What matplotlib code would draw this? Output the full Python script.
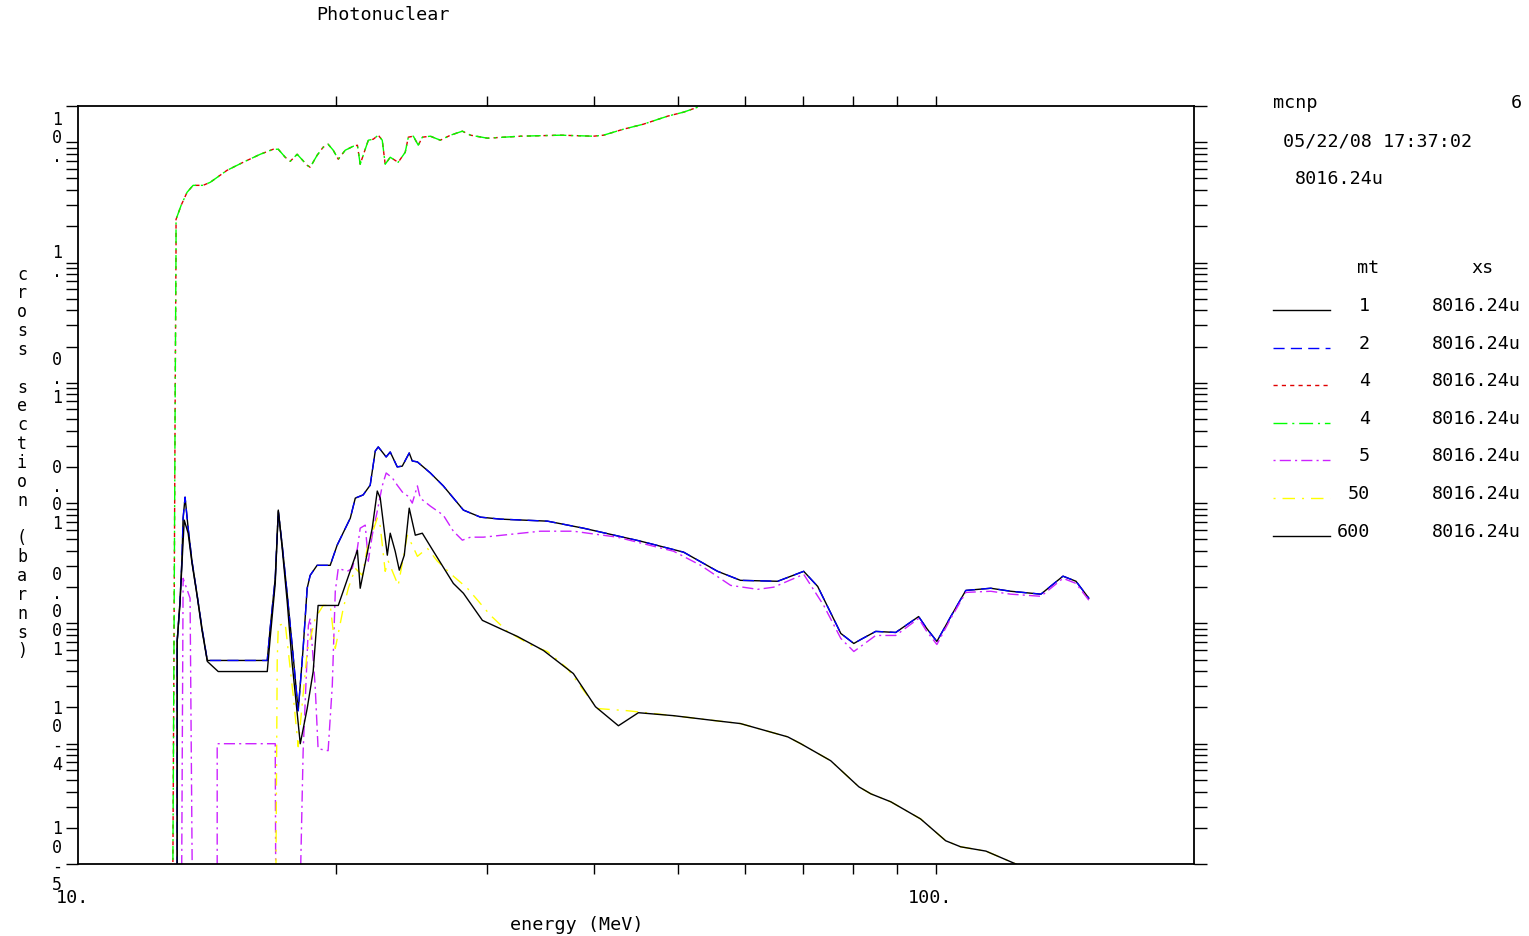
import matplotlib
matplotlib.use('Agg')
import matplotlib.pyplot as plt
from matplotlib.lines import Line2D
from matplotlib.ticker import LogLocator, FixedLocator, NullFormatter

plt.rcParams['font.family'] = ['DejaVu Sans Mono', 'DejaVu Sans']
plt.rcParams['lines.scale_dashes'] = False

# ---- data (energy in MeV, xs in barns) ----
# values below the plot floor (1e-6) mean the curve drops off the axis
e_mt1 = [13.05, 13.05, 13.15, 13.22, 13.26, 13.33, 13.44, 13.58, 13.77, 13.95, 14.15,
         16.62, 16.75, 16.98, 17.12, 17.30, 17.54, 17.77, 18.06, 18.30, 18.50, 18.65,
         19.00, 19.68, 20.05, 20.77, 21.05, 21.50, 21.91, 22.21, 22.39, 22.87, 23.12,
         23.56, 23.88, 24.33, 24.53, 24.87, 25.75, 26.66, 28.14, 29.46, 31.08, 35.26,
         38.83, 45.26, 50.82, 55.67, 59.2, 65.42, 70.15, 72.83, 77.5, 80.25, 81.8,
         85.11, 89.81, 95.5, 97.6, 100.3, 104.1, 108.4, 115.9, 122.3, 132.6, 140.7,
         145.7, 150.8]
xs_mt1 = [1e-6, 7.08e-4, 1.53e-3, 3.48e-3, 7.50e-3, 1.12e-2, 6.19e-3, 3.29e-3, 1.71e-3,
          9.08e-4, 4.92e-4, 4.92e-4, 9.08e-4, 2.37e-3, 8.58e-3, 4.47e-3, 1.71e-3,
          6.56e-4, 1.88e-4, 6.19e-4, 1.96e-3, 2.51e-3, 3.04e-3, 3.04e-3, 4.47e-3,
          7.50e-3, 1.10e-2, 1.17e-2, 1.41e-2, 2.71e-2, 2.93e-2, 2.42e-2, 2.66e-2,
          2.00e-2, 2.03e-2, 2.61e-2, 2.24e-2, 2.20e-2, 1.78e-2, 1.39e-2, 8.75e-3,
          7.64e-3, 7.36e-3, 7.08e-3, 6.19e-3, 4.83e-3, 3.91e-3, 2.71e-3, 2.28e-3,
          2.24e-3, 2.71e-3, 2.03e-3, 8.25e-4, 6.81e-4, 7.36e-4, 8.58e-4, 8.41e-4,
          1.14e-3, 9.08e-4, 7.08e-4, 1.14e-3, 1.88e-3, 1.96e-3, 1.85e-3, 1.75e-3,
          2.47e-3, 2.24e-3, 1.62e-3]

# mt 2 sits on top of mt 1 everywhere
e_mt2 = list(e_mt1)
xs_mt2 = list(xs_mt1)

e_mt4 = [12.88, 12.94, 12.98, 13.01, 13.01, 13.19, 13.40, 13.62, 13.99, 14.26, 14.92,
         15.58, 16.31, 16.89, 17.12, 17.44, 17.68, 18.01, 18.50, 18.65, 19.00, 19.31,
         19.57, 19.84, 20.11, 20.49, 20.94, 21.17, 21.33, 21.56, 21.80, 22.09, 22.39,
         22.63, 22.81, 23.12, 23.62, 24.07, 24.27, 24.60, 24.93, 25.20, 25.75, 26.45,
         27.18, 28.06, 28.68, 30.01, 32.80, 36.51, 39.89, 40.99, 43.24, 45.63, 48.69,
         50.82, 52.8]
xs_mt4 = [1e-6, 7.5e-4, 0.075, 1.33, 2.28, 2.99, 3.83, 4.38, 4.38, 4.64, 5.84, 6.81,
          7.94, 8.74, 8.74, 7.50, 6.95, 7.94, 6.43, 6.19, 7.79, 9.08, 9.62, 8.58, 7.22,
          8.58, 9.26, 9.44, 6.56, 8.25, 10.39, 10.59, 11.44, 10.39, 6.56, 7.50, 6.81,
          8.25, 11.01, 11.22, 9.44, 11.01, 11.22, 10.39, 11.44, 12.35, 11.44, 10.80,
          11.22, 11.44, 11.22, 11.44, 12.83, 14.13, 16.47, 17.78, 19.57]

e_mt5 = [13.19, 13.26, 13.51, 13.62, 14.53, 14.53, 16.98, 17.02, 18.06, 18.30, 18.56,
         18.65, 18.90, 19.05, 19.57, 19.79, 19.95, 20.11, 20.60, 20.88, 21.17, 21.33,
         21.62, 21.80, 22.03, 22.33, 22.63, 22.87, 23.25, 23.56, 23.94, 24.27, 24.53,
         24.87, 25.06, 25.75, 26.66, 27.39, 28.06, 28.68, 29.69, 34.60, 37.80, 42.54,
         49.47, 53.2, 57.66, 62.0, 64.71, 70.15, 74.02, 77.5, 80.25, 85.11, 89.81,
         95.5, 97.6, 100.3, 104.1, 108.4, 115.9, 122.3, 132.6, 140.7, 145.7, 150.8]
xs_mt5 = [1e-6, 2.37e-3, 1.62e-3, 1e-6, 1e-6, 1.0e-4, 1.0e-4, 1e-6, 1e-6, 8.58e-5,
          9.62e-4, 1.10e-3, 3.04e-4, 9.08e-5, 8.75e-5, 3.04e-4, 1.85e-3, 2.87e-3,
          2.71e-3, 2.87e-3, 4.22e-3, 6.19e-3, 6.56e-3, 3.29e-3, 5.41e-3, 8.58e-3,
          1.39e-2, 1.78e-2, 1.62e-2, 1.41e-2, 1.21e-2, 1.14e-2, 1.00e-2, 1.39e-2,
          1.10e-2, 9.44e-3, 7.94e-3, 5.84e-3, 4.92e-3, 5.21e-3, 5.21e-3, 5.84e-3,
          5.84e-3, 5.21e-3, 3.98e-3, 3.04e-3, 2.07e-3, 1.92e-3, 2.00e-3, 2.56e-3,
          1.41e-3, 7.50e-4, 5.84e-4, 7.94e-4, 7.94e-4, 1.10e-3, 8.58e-4, 6.68e-4,
          1.10e-3, 1.81e-3, 1.85e-3, 1.75e-3, 1.68e-3, 2.37e-3, 2.15e-3, 1.56e-3]

e_mt50 = [16.98, 17.07, 17.12, 17.44, 17.82, 18.06, 18.50, 18.90, 19.31, 19.68, 19.95,
          20.38, 20.66, 21.05, 21.45, 21.74, 22.33, 22.51, 22.81, 23.00, 23.62, 23.94,
          24.20, 24.53, 24.87, 25.54, 26.24, 27.39, 28.44, 30.25, 31.67, 33.96, 35.26,
          37.20, 39.26, 40.32, 43.71, 49.47, 55.08, 59.2, 67.20, 69.6, 75.42, 81.35,
          84.01, 88.62, 96.0, 102.7, 106.9, 114.4, 124.0, 127.4]
xs_mt50 = [1e-6, 4.83e-4, 9.62e-4, 1.00e-3, 2.51e-4, 9.44e-5, 5.84e-4, 1.10e-3,
           1.41e-3, 1.41e-3, 6.19e-4, 1.33e-3, 1.96e-3, 2.87e-3, 2.51e-3, 4.22e-3,
           7.50e-3, 6.43e-3, 2.71e-3, 3.29e-3, 2.07e-3, 3.48e-3, 5.41e-3, 4.47e-3,
           3.61e-3, 4.22e-3, 3.29e-3, 2.47e-3, 1.96e-3, 1.17e-3, 8.58e-4, 6.43e-4,
           5.84e-4, 4.22e-4, 2.51e-4, 1.96e-4, 1.88e-4, 1.71e-4, 1.56e-4, 1.47e-4,
           1.14e-4, 1.00e-4, 7.22e-5, 4.38e-5, 3.83e-5, 3.29e-5, 2.37e-5, 1.56e-5,
           1.39e-5, 1.28e-5, 1.00e-5, 8.2e-6]

e_mt600 = [13.05, 13.05, 13.15, 13.22, 13.30, 13.44, 13.58, 13.77, 13.95, 14.15, 14.57,
           16.62, 16.75, 16.98, 17.12, 17.30, 17.54, 17.77, 18.16, 18.50, 18.80, 19.05,
           20.11, 21.17, 21.33, 22.03, 22.33, 22.51, 22.94, 23.12, 23.43, 23.69, 24.01,
           24.33, 24.73, 25.20, 25.96, 27.39, 28.14, 29.61, 30.67, 32.53, 34.88, 37.80,
           40.11, 42.66, 45.01, 49.47, 55.08, 59.2, 67.20, 69.6, 75.42, 81.35, 84.01,
           88.62, 96.0, 102.7, 106.9, 114.4, 124.0, 127.4]
xs_mt600 = [1e-6, 7.08e-4, 1.47e-3, 3.16e-3, 7.22e-3, 5.62e-3, 3.16e-3, 1.68e-3,
            8.75e-4, 4.83e-4, 3.98e-4, 3.98e-4, 7.50e-4, 2.15e-3, 8.75e-3, 4.22e-3,
            1.47e-3, 4.64e-4, 1.00e-4, 1.96e-4, 3.98e-4, 1.41e-3, 1.41e-3, 4.06e-3,
            1.96e-3, 6.19e-3, 1.26e-2, 1.10e-2, 3.69e-3, 5.62e-3, 3.98e-3, 2.77e-3,
            3.69e-3, 9.08e-3, 5.41e-3, 5.62e-3, 3.98e-3, 2.15e-3, 1.78e-3, 1.06e-3,
            9.44e-4, 7.79e-4, 5.96e-4, 3.83e-4, 2.03e-4, 1.41e-4, 1.81e-4, 1.71e-4,
            1.56e-4, 1.47e-4, 1.14e-4, 1.00e-4, 7.22e-5, 4.38e-5, 3.83e-5, 3.29e-5,
            2.37e-5, 1.56e-5, 1.39e-5, 1.28e-5, 1.00e-5, 8.2e-6]

mt_labels = ['1', '2', '4', '4', '5', '50', '600']
xs_name = '8016.24u'
ytick_vals = [10, 1, 0.1, 0.01, 0.001, 1e-4, 1e-5]
ytick_text = ['10.', '1.', '0.1', '0.01', '0.001', '10-4', '10-5']
ytick_shift = [5, 1, 5, 8, 12, 8, 8]   # pixels the stacked label sits above its tick

W, H = 1529, 937
FS = 13.2
def fx(px):
    return px / W
def fy(py):
    return 1 - py / H

fig = plt.figure(figsize=(W / 100, H / 100), dpi=100)
ax = fig.add_axes([fx(78), fy(865), (1194 - 78) / W, (865 - 107) / H])
ax.set_xscale('log')
ax.set_yscale('log')
ax.set_xlim(10, 200)
ax.set_ylim(1e-5, 20)

# curve styles in MCNP draw order
curves = [
    (e_mt1, xs_mt1, 'black', '-'),
    (e_mt2, xs_mt2, '#0000ff', (0, (8, 4.5))),
    (e_mt4, xs_mt4, '#e00000', (0, (3, 3))),
    (e_mt4, xs_mt4, '#00ff00', (0, (10, 3.5, 1.5, 3.5))),
    (e_mt5, xs_mt5, '#cc22ff', (0, (1.5, 3, 8, 3))),
    (e_mt50, xs_mt50, '#ffff00', (0, (1.5, 5, 9, 5))),
    (e_mt600, xs_mt600, 'black', '-'),
]
for e, xs, col, ls in curves:
    ax.plot(e, xs, color=col, linestyle=ls, lw=1.0)

# ticks
ax.xaxis.set_major_locator(FixedLocator([20, 30, 40, 50, 60, 70, 80, 90, 100]))
ax.xaxis.set_minor_locator(FixedLocator([]))
ax.xaxis.set_major_formatter(NullFormatter())
ax.xaxis.set_minor_formatter(NullFormatter())
ax.yaxis.set_major_locator(LogLocator(base=10, numticks=20))
ax.yaxis.set_minor_locator(LogLocator(base=10, subs=range(2, 10), numticks=20))
ax.yaxis.set_major_formatter(NullFormatter())
ax.yaxis.set_minor_formatter(NullFormatter())
ax.tick_params(axis='y', which='both', direction='out', length=9, width=1.0,
               color='black', left=True, right=True)
ax.tick_params(axis='x', which='both', direction='out', length=7.5, width=1.0,
               color='black', top=True, bottom=True)
for s in ax.spines.values():
    s.set_linewidth(1.3)

# stacked y tick labels, one character per row
for v, t, sh in zip(ytick_vals, ytick_text, ytick_shift):
    ax.annotate('\n'.join(t), xy=(0, v), xycoords=('axes fraction', 'data'),
                xytext=(-21, sh), textcoords='offset pixels',
                ha='center', va='center', fontsize=12, linespacing=1.05)

for v, t in [(10, '10.'), (100, '100.')]:
    ax.annotate(t, xy=(v, 0), xycoords=('data', 'axes fraction'),
                xytext=(-6, -33), textcoords='offset pixels',
                ha='center', va='center', fontsize=FS)

fig.text(fx(577), fy(925), 'energy (MeV)', ha='center', va='center', fontsize=FS)
fig.text(fx(22), fy(463), '\n'.join('cross section (barns)'), ha='center', va='center',
         fontsize=12, linespacing=1.06)
fig.text(fx(316), fy(15), 'Photonuclear', ha='left', va='center', fontsize=FS)

# header block on the right
fig.text(fx(1273), fy(103), 'mcnp', ha='left', va='center', fontsize=FS)
fig.text(fx(1522), fy(103), '6', ha='right', va='center', fontsize=FS)
fig.text(fx(1283), fy(141), '05/22/08 17:37:02', ha='left', va='center', fontsize=FS)
fig.text(fx(1295), fy(179), xs_name, ha='left', va='center', fontsize=FS)

# legend table
fig.text(fx(1368), fy(268), 'mt', ha='center', va='center', fontsize=FS)
fig.text(fx(1482), fy(268), 'xs', ha='center', va='center', fontsize=FS)
row0, row_step = 306, 37.6
for i, (mt, c) in enumerate(zip(mt_labels, curves)):
    yy = row0 + i * row_step
    fig.add_artist(Line2D([fx(1273), fx(1330)], [fy(yy + 5), fy(yy + 5)],
                          transform=fig.transFigure, color=c[2], linestyle=c[3], lw=1.0))
    fig.text(fx(1370), fy(yy), mt, ha='right', va='center', fontsize=FS)
    fig.text(fx(1432), fy(yy), xs_name, ha='left', va='center', fontsize=FS)

plt.savefig('out.png', dpi=100, facecolor='white')
plt.close()
